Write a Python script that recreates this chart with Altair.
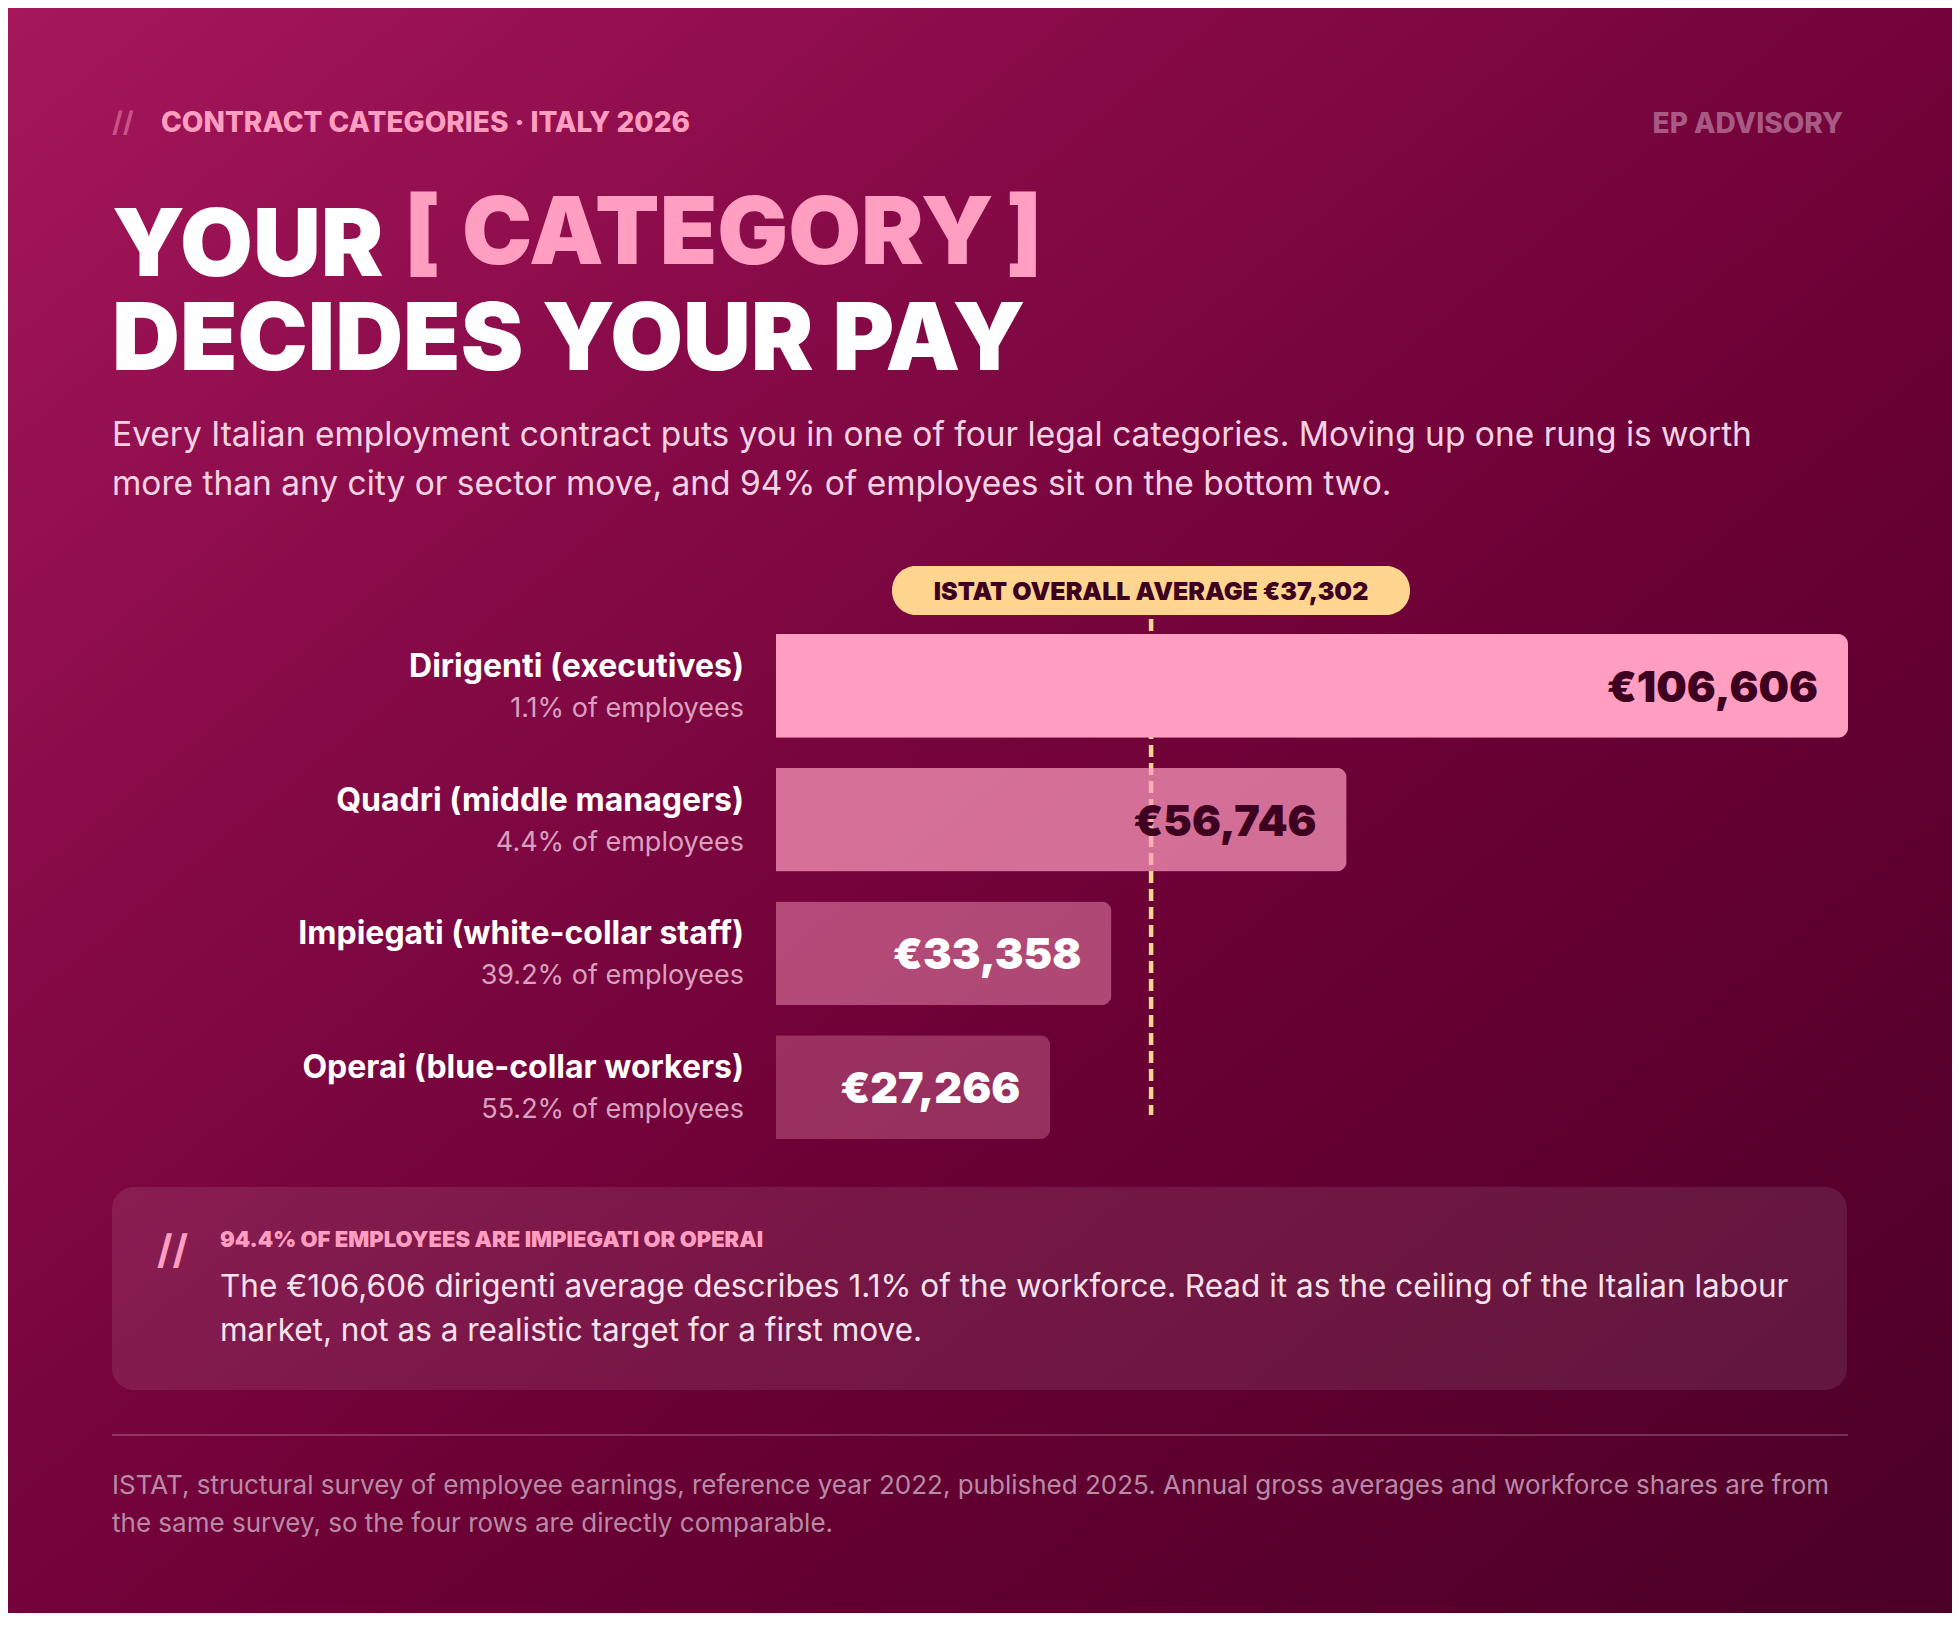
import altair as alt
import pandas as pd

# ---------------- data ----------------
names = [
    "Dirigenti (executives)",
    "Quadri (middle managers)",
    "Impiegati (white-collar staff)",
    "Operai (blue-collar workers)",
]
salaries = [106606, 56746, 33358, 27266]
shares = ["1.1%", "4.4%", "39.2%", "55.2%"]
overall_average = 37302

kicker_slashes = "//"
kicker = "CONTRACT CATEGORIES · ITALY 2026"
brand = "EP ADVISORY"
title_your = "YOUR"
title_open = "["
title_category = "CATEGORY"
title_close = "]"
title_line2 = "DECIDES YOUR PAY"
subtitle = [
    "Every Italian employment contract puts you in one of four legal categories. Moving up one rung is worth",
    "more than any city or sector move, and 94% of employees sit on the bottom two.",
]
badge_text = "ISTAT OVERALL AVERAGE €37,302"
callout_head = "94.4% OF EMPLOYEES ARE IMPIEGATI OR OPERAI"
callout_body = [
    "The €106,606 dirigenti average describes 1.1% of the workforce. Read it as the ceiling of the Italian labour",
    "market, not as a realistic target for a first move.",
]
footnote = [
    "ISTAT, structural survey of employee earnings, reference year 2022, published 2025. Annual gross averages and workforce shares are from",
    "the same survey, so the four rows are directly comparable.",
]

# ---------------- layout ----------------
W, H = 1944, 1605
FONT = "Inter"
PINK = "#ff9ec0"
PEACH = "#ffd590"
DARK = "#3d0020"

df = pd.DataFrame({
    "name": names,
    "salary": salaries,
    "share": [f"{s} of employees" for s in shares],
    "label": [f"€{v:,}" for v in salaries],
})

xs = alt.Scale(domain=[0, max(salaries)], range=[768, 1840], nice=False, zero=True)
ys = alt.Scale(domain=names, range=[626, 1131], paddingInner=0.225, paddingOuter=0)
bar_colors = alt.Scale(
    domain=names,
    range=[PINK, "rgba(255,158,192,0.70)", "rgba(255,158,192,0.46)", "rgba(255,158,192,0.30)"],
)

one = pd.DataFrame({"a": [0]})


def txt(lines, x, y, size, color, weight="normal", align="left", line_height=None, opacity=1):
    t = "\n".join(lines) if isinstance(lines, list) else lines
    kw = dict(
        font=FONT, fontSize=size, fontWeight=weight, color=color, align=align,
        baseline="alphabetic", lineBreak="\n", opacity=opacity,
    )
    if line_height:
        kw["lineHeight"] = line_height
    return alt.Chart(pd.DataFrame({"t": [t]})).mark_text(**kw).encode(
        x=alt.value(x), y=alt.value(y), text="t:N"
    )


grad = {
    "gradient": "linear",
    "x1": 0, "y1": 0, "x2": 1, "y2": 1,
    "stops": [
        {"offset": 0, "color": "#a6175b"},
        {"offset": 0.3, "color": "#860a47"},
        {"offset": 0.6, "color": "#6a0034"},
        {"offset": 1, "color": "#4b0027"},
    ],
}
background = alt.Chart(one).mark_rect(color=grad).encode(
    x=alt.value(0), x2=alt.value(W), y=alt.value(0), y2=alt.value(H)
)

callout_box = alt.Chart(one).mark_rect(
    color="#ffffff", opacity=0.09, cornerRadius=22
).encode(x=alt.value(104), x2=alt.value(1839), y=alt.value(1179), y2=alt.value(1382))

divider = alt.Chart(one).mark_rule(color="#ffffff", opacity=0.2, strokeWidth=2).encode(
    x=alt.value(104), x2=alt.value(1840), y=alt.value(1427)
)

avg_df = pd.DataFrame({"avg": [overall_average]})
avg_rule = alt.Chart(avg_df).mark_rule(
    color=PEACH, strokeDash=[12, 6], strokeWidth=4.5
).encode(x=alt.X("avg:Q", scale=xs, axis=None), y=alt.value(611), y2=alt.value(1107))

bars = alt.Chart(df).mark_bar(cornerRadiusEnd=10).encode(
    x=alt.X("salary:Q", scale=xs, axis=None),
    y=alt.Y("name:N", scale=ys, axis=None),
    color=alt.Color("name:N", scale=bar_colors, legend=None),
)

value_labels = alt.Chart(df).mark_text(
    font=FONT, fontSize=43, fontWeight=900, align="right", baseline="alphabetic", dx=-30, dy=16
).encode(
    x=alt.X("salary:Q", scale=xs, axis=None),
    y=alt.Y("name:N", scale=ys, axis=None),
    text="label:N",
    fill=alt.condition(alt.datum.salary > 50000, alt.value(DARK), alt.value("#ffffff")),
)

cat_names = alt.Chart(df).mark_text(
    font=FONT, fontSize=32, fontWeight="bold", align="right", baseline="alphabetic",
    color="#ffffff", dy=-9,
).encode(
    x=alt.value(736),
    y=alt.Y("name:N", scale=ys, axis=None),
    text="name:N",
)

cat_shares = alt.Chart(df).mark_text(
    font=FONT, fontSize=27, align="right", baseline="alphabetic", color="#d9a0bf", dy=31,
).encode(
    x=alt.value(736),
    y=alt.Y("name:N", scale=ys, axis=None),
    text="share:N",
)

badge_box = alt.Chart(one).mark_rect(color=PEACH, cornerRadius=24).encode(
    x=alt.value(884), x2=alt.value(1402), y=alt.value(558), y2=alt.value(607)
)
badge = txt(badge_text, 1143, 592, 25, DARK, weight=900, align="center")

layers = [
    background,
    callout_box,
    divider,
    avg_rule,
    bars,
    value_labels,
    cat_names,
    cat_shares,
    badge_box,
    badge,
    txt(kicker_slashes, 104, 124, 28, PINK, weight="bold", opacity=0.45),
    txt(kicker, 153, 124, 28, PINK, weight=800),
    txt(brand, 1835, 125, 28, "#a85a84", weight=800, align="right"),
    txt(title_your, 104, 268, 94, "#ffffff", weight=900),
    txt(title_open, 396, 256, 94, PINK, weight=900),
    txt(title_category, 454, 256, 94, PINK, weight=900),
    txt(title_close, 998, 256, 94, PINK, weight=900),
    txt(title_line2, 104, 362, 94, "#ffffff", weight=900),
    txt(subtitle, 104, 438, 33.5, "#f3d3e3", line_height=49),
    txt(kicker_slashes, 149, 1256, 40, PINK, weight="bold"),
    txt(callout_head, 212, 1239, 22, PINK, weight=900),
    txt(callout_body, 212, 1289, 31.5, "#f6e2ec", line_height=44),
    txt(footnote, 104, 1486, 26, "#b98aa5", line_height=38),
]

chart = alt.layer(*layers).properties(
    width=W, height=H, padding=0,
    autosize=alt.AutoSizeParams(type="none"),
    background="#4b0027",
).configure_view(stroke=None)

chart.save("out.html", embed_options={"renderer": "svg", "actions": False})
